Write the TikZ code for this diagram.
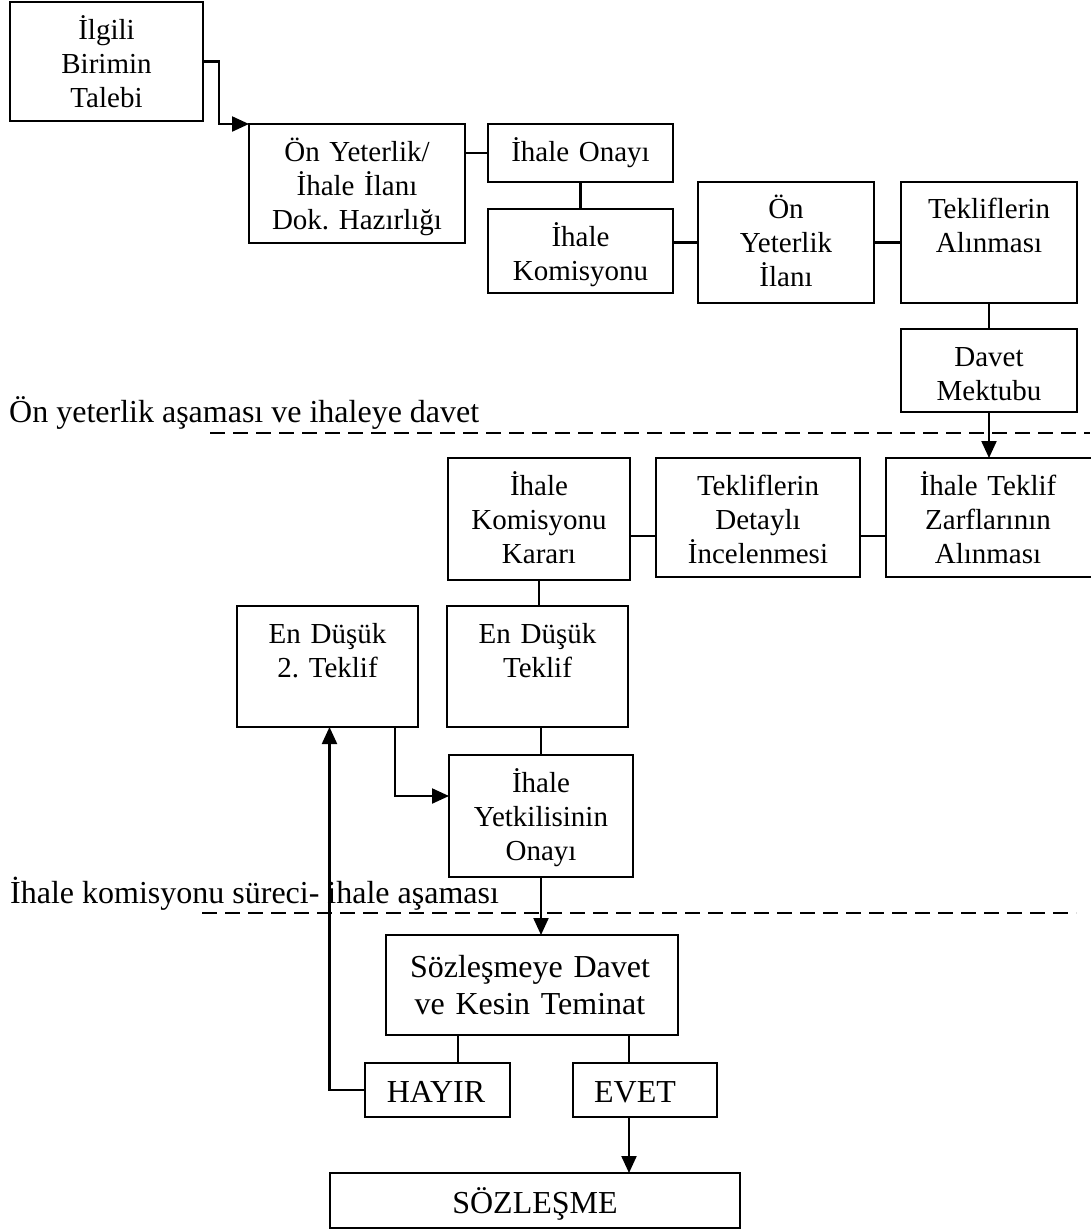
\documentclass[tikz,border=0pt]{standalone}
\usepackage{fontspec}
\setmainfont{Liberation Serif}
\usetikzlibrary{arrows.meta,calc}
\frenchspacing
\begin{document}
\begin{tikzpicture}[x=1pt,y=-1pt,
  boxnode/.style={draw,line width=2.2pt,inner sep=0pt,outer sep=0pt},
  txt/.style={anchor=base,inner sep=0pt,align=center,font=\fontsize{29}{34}\selectfont},
  bigtxt/.style={anchor=base,inner sep=0pt,align=center,font=\fontsize{32}{37}\selectfont},
  conn/.style={line width=2.2pt},
  thin/.style={line width=1.3pt},
  arr/.style={line width=2.2pt,-{Triangle[length=17pt,width=15pt]}},
  sep/.style={line width=2pt,dash pattern=on 15pt off 8pt},
]
\useasboundingbox (0,0) rectangle (1090,1229);
% boxes (x1,y1) rectangle (x2,y2) as nodes
\newcommand{\bx}[5]{\node[boxnode,minimum width={#4-#2},minimum height={#5-#3}] (#1) at ({(#2+#4)/2},{(#3+#5)/2}) {};}
\bx{b1}{10}{2}{203}{121}
\bx{b2}{249}{124}{465}{243}
\bx{b3}{488}{124}{673}{182}
\bx{b4}{488}{209}{673}{293}
\bx{b5}{698}{182}{874}{303}
\bx{b6}{901}{182}{1077}{303}
\bx{b7}{901}{329}{1077}{412}
\bx{b8}{886}{458}{1096}{577}
\bx{b9}{656}{458}{860}{577}
\bx{b10}{448}{458}{630}{580}
\bx{b11}{447}{606}{628}{727}
\bx{b12}{237}{606}{418}{727}
\bx{b13}{449}{755}{633}{877}
\bx{b14}{386}{935}{678}{1035}
\bx{hayir}{365}{1063}{510}{1117}
\bx{evet}{573}{1063}{717}{1117}
\bx{soz}{330}{1173}{740}{1228}

% texts
\node[txt,text width=180pt] (t1) at (106.5,39) {İlgili\\Birimin\\Talebi};
\node[txt,text width=210pt] (t2) at (357,161) {Ön Yeterlik/\\İhale İlanı\\Dok. Hazırlığı};
\node[txt,text width=180pt] (t3) at (580.5,161) {İhale Onayı};
\node[txt,text width=180pt] (t4) at (580.5,246) {İhale\\Komisyonu};
\node[txt,text width=170pt] (t5) at (786,218) {Ön\\Yeterlik\\İlanı};
\node[txt,text width=170pt] (t6) at (989,218) {Tekliflerin\\Alınması};
\node[txt,text width=170pt] (t7) at (989,366) {Davet\\Mektubu};
\node[txt,text width=200pt] (t8) at (988,495) {İhale Teklif\\Zarflarının\\Alınması};
\node[txt,text width=200pt] (t9) at (758,495) {Tekliflerin\\Detaylı\\İncelenmesi};
\node[txt,text width=180pt] (t10) at (539,495) {İhale\\Komisyonu\\Kararı};
\node[txt,text width=175pt] (t11) at (537.5,643) {En Düşük\\Teklif};
\node[txt,text width=175pt] (t12) at (327.5,643) {En Düşük\\2. Teklif};
\node[txt,text width=180pt] (t13) at (541,792) {İhale\\Yetkilisinin\\Onayı};
\node[bigtxt,text width=290pt] (t14) at (530,977) {Sözleşmeye Davet\\ve Kesin Teminat};
\node[bigtxt] (th) at (436,1102) {HAYIR};
\node[bigtxt] (te) at (635,1102) {EVET};
\node[bigtxt] (ts) at (535,1213) {SÖZLEŞME};

% phase labels
\node[anchor=base west,inner sep=0pt,font=\fontsize{32}{37}\selectfont] (l1) at (9,422) {Ön yeterlik aşaması ve ihaleye davet};
\node[anchor=base west,inner sep=0pt,font=\fontsize{32}{37}\selectfont] (l2) at (10,903) {İhale komisyonu süreci- ihale aşaması};
\coordinate (d1a) at (210,433);
\coordinate (d1b) at (1090,433);
\coordinate (d2a) at (202,913);
\coordinate (d2b) at (1076,913);
\draw[sep] (d1a) -- (d1b);
\draw[sep] (d2a) -- (d2b);

% connectors
\draw[arr] (b1.east) -- ++(16,0) |- (b2.north west);
\draw[conn] (b3.west) -- (b3.west -| b2.east);
\draw[conn] (b3.south) -- (b4.north);
\draw[conn] (b5.west) -- (b5.west -| b4.east);
\draw[conn] (b5.east) -- (b6.west);
\draw[conn] (b6.south) -- (b7.north);
\draw[arr] (b7.south) -- (b7.south |- b8.north);
\draw[conn] ([yshift=-18.5pt]b8.west) -- ([yshift=-18.5pt]b8.west -| b9.east);
\draw[conn] ([yshift=-18.5pt]b9.west) -- ([yshift=-18.5pt]b9.west -| b10.east);
\draw[thin] (b10.south) -- (b10.south |- b11.north);
\draw[conn] (b13.north) -- (b13.north |- b11.south);
\draw[arr] ([xshift=-23pt]b12.south east) |- ([yshift=20pt]b13.west);
\draw[arr] (b13.south) -- (b13.south |- b14.north);
\draw[conn] ([xshift=20.5pt]hayir.north) -- ([xshift=20.5pt]hayir.north |- b14.south);
\draw[conn] ([xshift=-16pt]evet.north) -- ([xshift=-16pt]evet.north |- b14.south);
\draw[arr] (hayir.west) -| ([xshift=2pt]b12.south);
\draw[arr] ([xshift=-16pt]evet.south) -- ([xshift=-16pt]evet.south |- soz.north);
\end{tikzpicture}
\end{document}
